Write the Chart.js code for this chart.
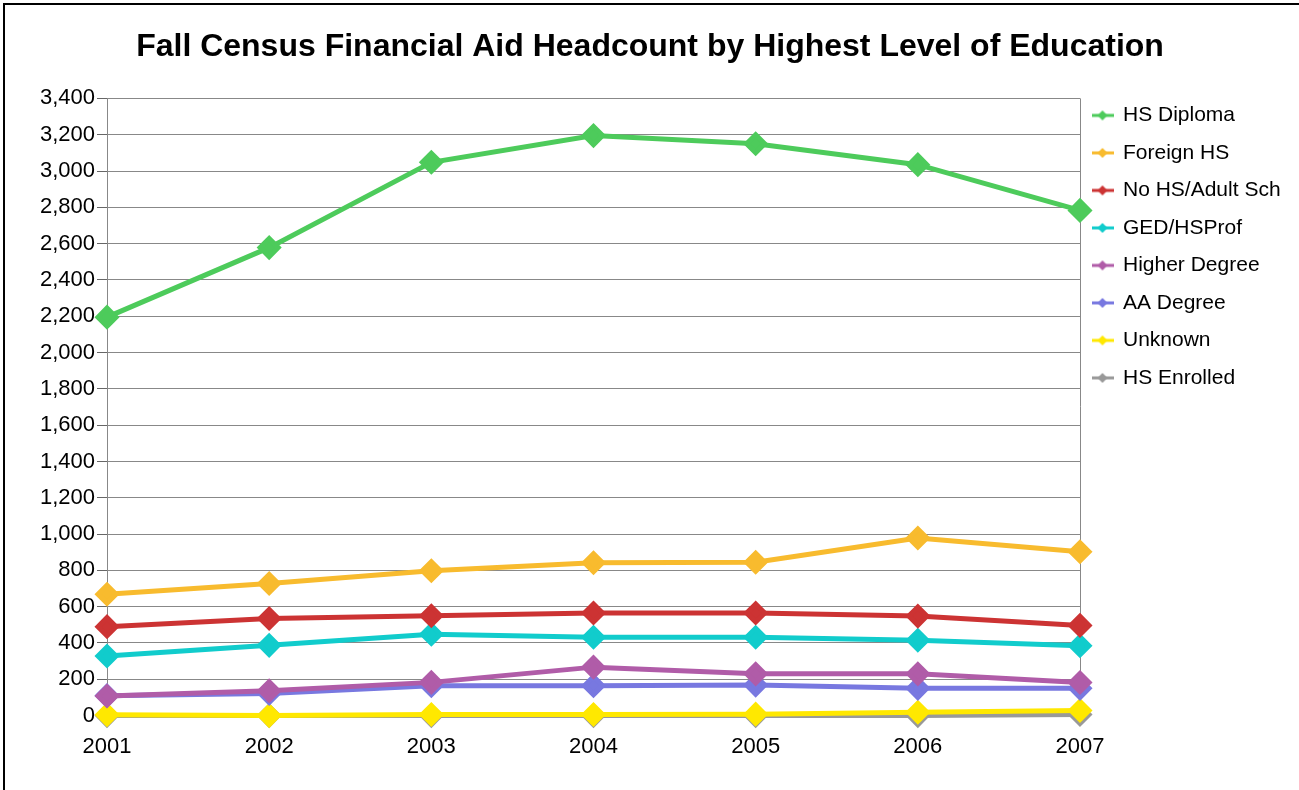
<!DOCTYPE html>
<html>
<head>
<meta charset="utf-8">
<script src="https://cdn.jsdelivr.net/npm/chart.js@4/dist/chart.umd.min.js"></script>
<style>
  html, body { margin: 0; padding: 0; background: #fff; }
  #wrap { width: 1299px; height: 790px; position: relative; }
</style>
</head>
<body>
<div id="wrap"><canvas id="chart" width="1299" height="790"></canvas></div>
<script>
const years = ['2001', '2002', '2003', '2004', '2005', '2006', '2007'];

const hsDiploma   = [2195, 2578, 3048, 3195, 3150, 3035, 2783];
const foreignHs   = [668, 728, 798, 842, 845, 978, 903];
const noHsAdult   = [490, 535, 550, 565, 565, 548, 497];
const gedHsProf   = [328, 387, 448, 432, 432, 415, 385];
const higherDeg   = [108, 137, 183, 267, 230, 230, 182];
const aaDegree    = [110, 122, 165, 165, 168, 150, 150];
const unknown     = [5, 0, 6, 6, 8, 18, 28];
const hsEnrolled  = [0, 0, 0, 0, 0, 0, 6];

const seriesNames  = ['HS Diploma', 'Foreign HS', 'No HS/Adult Sch', 'GED/HSProf',
                      'Higher Degree', 'AA Degree', 'Unknown', 'HS Enrolled'];
const seriesValues = [hsDiploma, foreignHs, noHsAdult, gedHsProf,
                      higherDeg, aaDegree, unknown, hsEnrolled];
const seriesColors = ['#4dcb5b', '#f8bb2e', '#cc3333', '#11cccc',
                      '#b05ca8', '#7878e0', '#ffe800', '#999999'];

// little line+diamond swatch for the legend
function legendIcon(color) {
  const c = document.createElement('canvas');
  c.width = 22; c.height = 12;
  const g = c.getContext('2d');
  g.strokeStyle = color;
  g.lineWidth = 3;
  g.beginPath(); g.moveTo(0, 6); g.lineTo(22, 6); g.stroke();
  g.fillStyle = color;
  g.beginPath(); g.moveTo(11, 1); g.lineTo(16, 6); g.lineTo(11, 11); g.lineTo(6, 6); g.closePath(); g.fill();
  return c;
}

const frame = {
  id: 'frame',
  beforeDraw(chart) {
    const ctx = chart.ctx;
    ctx.save();
    ctx.fillStyle = '#fff';
    ctx.fillRect(0, 0, chart.width, chart.height);
    ctx.strokeStyle = '#000';
    ctx.lineWidth = 2;
    ctx.beginPath();
    ctx.moveTo(4, chart.height);
    ctx.lineTo(4, 4);
    ctx.lineTo(chart.width, 4);
    ctx.stroke();
    ctx.restore();
  }
};

// nudge the legend up/left a little so it sits like the original
const legendShift = {
  id: 'legendShift',
  afterLayout(chart) {
    const lg = chart.legend;
    if (!lg) return;
    lg.top -= 10; lg.bottom -= 10;
    lg.left -= 4; lg.right -= 4;
  }
};

const datasets = seriesNames.map((name, i) => ({
  label: name,
  data: seriesValues[i],
  borderColor: seriesColors[i],
  backgroundColor: seriesColors[i],
  borderWidth: 5,
  pointStyle: 'rectRot',
  pointRadius: 9,
  pointHoverRadius: 9,
  tension: 0,
  clip: false
}));

Chart.defaults.font.family = '"Liberation Sans", Arial, sans-serif';
Chart.defaults.color = '#000';

new Chart(document.getElementById('chart').getContext('2d'), {
  type: 'line',
  data: { labels: years, datasets },
  options: {
    responsive: false,
    animation: false,
    layout: { padding: { top: 10, left: 11, right: 10, bottom: 20 } },
    plugins: {
      title: {
        display: true,
        text: 'Fall Census Financial Aid Headcount by Highest Level of Education',
        font: { size: 32, weight: 'bold' },
        padding: { top: 18, bottom: 32 }
      },
      legend: {
        position: 'right',
        align: 'start',
        fullSize: false,
        maxWidth: 209,
        labels: {
          usePointStyle: true,
          pointStyleWidth: 20,
          font: { size: 21 },
          padding: 16.5,
          generateLabels(chart) {
            return chart.data.datasets.map((ds, i) => ({
              text: ds.label,
              pointStyle: legendIcon(seriesColors[i]),
              fillStyle: seriesColors[i],
              strokeStyle: seriesColors[i],
              lineWidth: 0,
              hidden: false,
              datasetIndex: i,
              fontColor: '#000'
            }));
          }
        }
      },
      tooltip: { enabled: false }
    },
    scales: {
      x: {
        offset: false,
        grid: {
          color: c => (c.index === years.length - 1 ? '#888' : 'rgba(0,0,0,0)'),
          tickColor: '#666',
          tickLength: 8,
          lineWidth: 1
        },
        border: { color: '#888', width: 1 },
        ticks: { font: { size: 22 }, padding: 10, maxRotation: 0 }
      },
      y: {
        min: 0,
        max: 3400,
        afterFit(scale) { scale.width = 96; },
        ticks: { stepSize: 200, font: { size: 22 }, padding: 2 },
        grid: { color: '#888', tickColor: '#666', tickLength: 10, lineWidth: 1 },
        border: { color: '#888', width: 1 }
      }
    }
  },
  plugins: [frame, legendShift]
});
</script>
</body>
</html>
